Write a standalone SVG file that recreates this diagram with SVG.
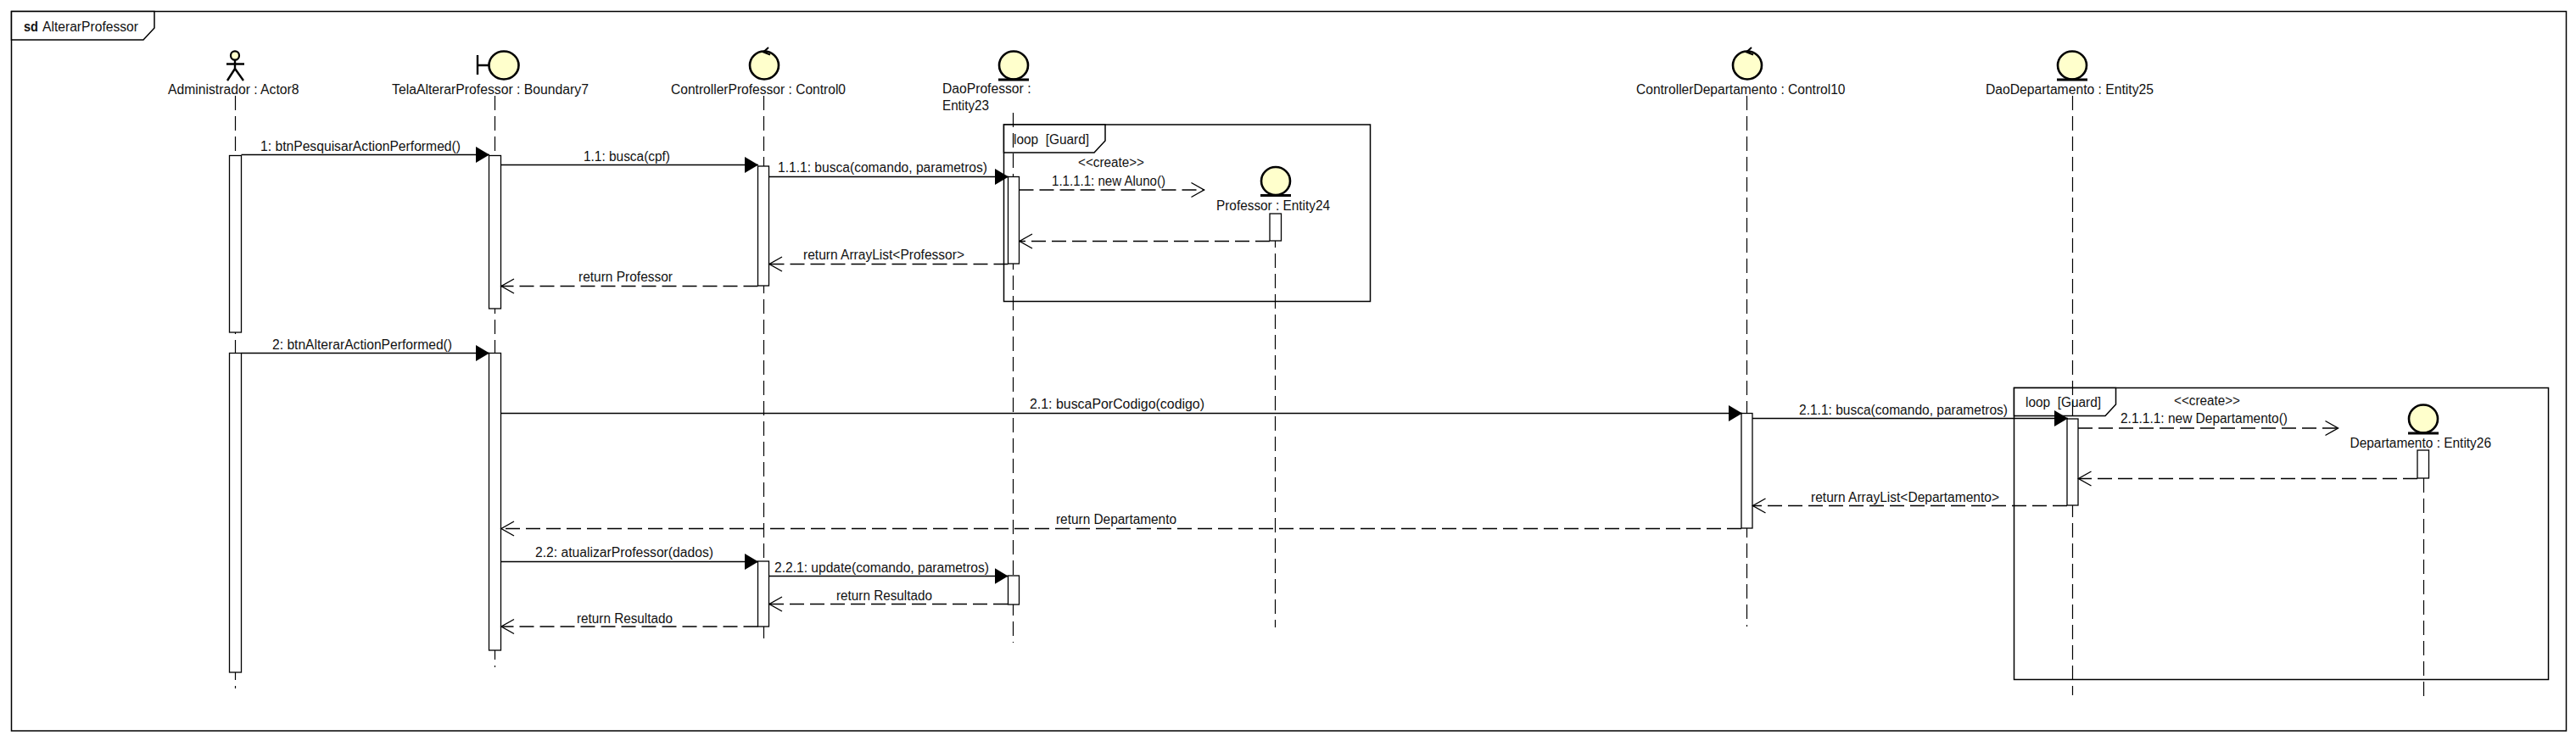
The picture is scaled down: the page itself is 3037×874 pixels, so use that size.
<svg xmlns="http://www.w3.org/2000/svg" width="3037" height="874" viewBox="0 0 3037 874">
<style>
text{font-family:"Liberation Sans",Arial,sans-serif;font-size:16px;fill:#111;white-space:pre}
.b{font-weight:bold}
.frame{fill:none;stroke:#000;stroke-width:1.5}
.tab{fill:#fff;stroke:#000;stroke-width:1.5}
.life{fill:none;stroke:#000;stroke-width:1.2;stroke-dasharray:17 7}
.act{fill:#fff;stroke:#000;stroke-width:1.3}
.ic{fill:#FFFFCC;stroke:#000;stroke-width:2.6}
.st{fill:none;stroke:#000;stroke-width:2.4}
.eb{fill:none;stroke:#000;stroke-width:3}
.tick{fill:none;stroke:#000;stroke-width:2}
.call{fill:none;stroke:#000;stroke-width:1.6;marker-end:url(#filled)}
.ret{fill:none;stroke:#000;stroke-width:1.5;stroke-dasharray:17 7;marker-end:url(#open)}
</style>
<defs>
<marker id="filled" markerUnits="userSpaceOnUse" markerWidth="18" markerHeight="22" refX="16" refY="10" orient="auto"><path d="M0 0.5L16 10L0 19.5Z" fill="#000"/></marker>
<marker id="open" markerUnits="userSpaceOnUse" markerWidth="18" markerHeight="22" refX="16.5" refY="10" orient="auto"><path d="M1 1.5L16 10L1 18.5" fill="none" stroke="#000" stroke-width="1.4"/></marker>
<g id="entity"><ellipse class="ic" cx="0" cy="0" rx="17" ry="16.5"/><path class="eb" d="M-18 17H18"/></g>
<g id="control"><ellipse class="ic" cx="0" cy="0" rx="17" ry="16.5"/><path class="tick" d="M5 -21L-1 -15.5L7 -12.5"/></g>
</defs>
<rect width="3037" height="874" fill="#fff"/>
<g id="frame">
<rect class="frame" x="13.5" y="13.5" width="3012" height="848.5"/>
<path class="tab" d="M13.5 13.5H182V33L169 47H13.5Z"/>
<text x="28" y="37" class="b" textLength="17" lengthAdjust="spacingAndGlyphs">sd</text>
<text x="50" y="37" textLength="113" lengthAdjust="spacingAndGlyphs">AlterarProfessor</text>
</g>
<g id="loop1">
<rect class="frame" x="1183.5" y="147" width="432" height="208.5"/>
<path class="tab" d="M1183.5 147H1303V166L1290 180H1183.5Z"/>
<text x="1195" y="170" textLength="89" lengthAdjust="spacingAndGlyphs">loop  [Guard]</text>
</g>
<g id="loop2">
<rect class="frame" x="2374.5" y="457.5" width="630" height="344"/>
<path class="tab" d="M2374.5 457.5H2494.5V477L2482 490.5H2374.5Z"/>
<text x="2388" y="480" textLength="89" lengthAdjust="spacingAndGlyphs">loop  [Guard]</text>
</g>
<g id="actor8">
<path class="life" d="M277.5 113V812"/>
<ellipse cx="277" cy="65.5" rx="5" ry="5.2" fill="#FFFFCC" stroke="#000" stroke-width="2.2"/>
<path class="st" d="M277 71V81M267 75.5H288M268 95L277 81L287 95"/>
<text x="198" y="111" textLength="154.5" lengthAdjust="spacingAndGlyphs">Administrador : Actor8</text>
<rect class="act" x="270.5" y="183.5" width="14" height="208.5"/>
<rect class="act" x="270.5" y="416.5" width="14" height="376.5"/>
</g>
<g id="boundary7">
<path class="life" d="M583.5 113V787"/>
<ellipse class="ic" cx="594" cy="77" rx="17.5" ry="16.5"/>
<path class="st" d="M563 65V88M563 77H576"/>
<text x="462" y="111" textLength="232" lengthAdjust="spacingAndGlyphs">TelaAlterarProfessor : Boundary7</text>
<rect class="act" x="576.5" y="183.5" width="14" height="180.5"/>
<rect class="act" x="576.5" y="416.5" width="14" height="350.5"/>
</g>
<g id="control0">
<path class="life" d="M900.5 113V753"/>
<use href="#control" x="901" y="77"/>
<text x="791" y="111" textLength="206" lengthAdjust="spacingAndGlyphs">ControllerProfessor : Control0</text>
<rect class="act" x="893.5" y="196" width="13" height="141"/>
<rect class="act" x="893.5" y="662" width="13" height="77"/>
</g>
<g id="entity23">
<path class="life" d="M1194.5 133V758"/>
<use href="#entity" x="1195" y="77"/>
<text x="1111" y="110" textLength="104.5" lengthAdjust="spacingAndGlyphs">DaoProfessor :</text>
<text x="1111" y="130" textLength="55" lengthAdjust="spacingAndGlyphs">Entity23</text>
<rect class="act" x="1188.5" y="208.5" width="13" height="102.5"/>
<rect class="act" x="1188.5" y="679" width="13" height="34"/>
</g>
<g id="entity24">
<path class="life" d="M1503.5 284V740" stroke-dashoffset="9"/>
<use href="#entity" x="1504" y="213.5"/>
<text x="1434" y="248" textLength="134" lengthAdjust="spacingAndGlyphs">Professor : Entity24</text>
<rect class="act" x="1497" y="252" width="13.5" height="32"/>
</g>
<g id="control10">
<path class="life" d="M2059.5 113V739"/>
<use href="#control" x="2060" y="77"/>
<text x="1929" y="111" textLength="246.5" lengthAdjust="spacingAndGlyphs">ControllerDepartamento : Control10</text>
<rect class="act" x="2053" y="487.5" width="13" height="135.5"/>
</g>
<g id="entity25">
<path class="life" d="M2443.5 113V820"/>
<use href="#entity" x="2443" y="77"/>
<text x="2341" y="111" textLength="198" lengthAdjust="spacingAndGlyphs">DaoDepartamento : Entity25</text>
<rect class="act" x="2437" y="494" width="13" height="102"/>
</g>
<g id="entity26">
<path class="life" d="M2857.5 564V821"/>
<use href="#entity" x="2857" y="494"/>
<text x="2770.5" y="528" textLength="166.5" lengthAdjust="spacingAndGlyphs">Departamento : Entity26</text>
<rect class="act" x="2850" y="531" width="13.5" height="33"/>
</g>
<g id="connectors">
<path class="call" d="M284.5 182.5H577"/>
<text x="307" y="178" textLength="236" lengthAdjust="spacingAndGlyphs">1: btnPesquisarActionPerformed()</text>
<path class="call" d="M590.5 194.5H894"/>
<text x="688" y="190" textLength="102" lengthAdjust="spacingAndGlyphs">1.1: busca(cpf)</text>
<path class="call" d="M906.5 208.5H1189"/>
<text x="917" y="203" textLength="247" lengthAdjust="spacingAndGlyphs">1.1.1: busca(comando, parametros)</text>
<path class="ret" d="M1201.5 224H1420"/>
<text x="1271" y="197" textLength="78" lengthAdjust="spacingAndGlyphs">&lt;&lt;create&gt;&gt;</text>
<text x="1240" y="219" textLength="134" lengthAdjust="spacingAndGlyphs">1.1.1.1: new Aluno()</text>
<path class="ret" d="M1497 284.5H1201.5"/>
<path class="ret" d="M1188.5 311.5H906.5"/>
<text x="947" y="306" textLength="190" lengthAdjust="spacingAndGlyphs">return ArrayList&lt;Professor&gt;</text>
<path class="ret" d="M893.5 337.5H590.5"/>
<text x="682" y="332" textLength="111" lengthAdjust="spacingAndGlyphs">return Professor</text>
<path class="call" d="M284.5 416.5H577"/>
<text x="321" y="412" textLength="212" lengthAdjust="spacingAndGlyphs">2: btnAlterarActionPerformed()</text>
<path class="call" d="M590.5 487.5H2054"/>
<text x="1214" y="482" textLength="206" lengthAdjust="spacingAndGlyphs">2.1: buscaPorCodigo(codigo)</text>
<path class="call" d="M2066 493.5H2438"/>
<text x="2121" y="489" textLength="246" lengthAdjust="spacingAndGlyphs">2.1.1: busca(comando, parametros)</text>
<path class="ret" d="M2450 505H2757"/>
<text x="2563" y="478" textLength="78" lengthAdjust="spacingAndGlyphs">&lt;&lt;create&gt;&gt;</text>
<text x="2500" y="499" textLength="197" lengthAdjust="spacingAndGlyphs">2.1.1.1: new Departamento()</text>
<path class="ret" d="M2850 564.5H2450"/>
<path class="ret" d="M2437 596.5H2066"/>
<text x="2135" y="592" textLength="222" lengthAdjust="spacingAndGlyphs">return ArrayList&lt;Departamento&gt;</text>
<path class="ret" d="M2053 623.5H590.5"/>
<text x="1245" y="618" textLength="142" lengthAdjust="spacingAndGlyphs">return Departamento</text>
<path class="call" d="M590.5 662.5H894"/>
<text x="631" y="657" textLength="210" lengthAdjust="spacingAndGlyphs">2.2: atualizarProfessor(dados)</text>
<path class="call" d="M906.5 679.5H1188.5"/>
<text x="913" y="675" textLength="253" lengthAdjust="spacingAndGlyphs">2.2.1: update(comando, parametros)</text>
<path class="ret" d="M1188 712.5H906.5"/>
<text x="986" y="708" textLength="113" lengthAdjust="spacingAndGlyphs">return Resultado</text>
<path class="ret" d="M893.5 739H590.5"/>
<text x="680" y="735" textLength="113" lengthAdjust="spacingAndGlyphs">return Resultado</text>
</g>
</svg>
